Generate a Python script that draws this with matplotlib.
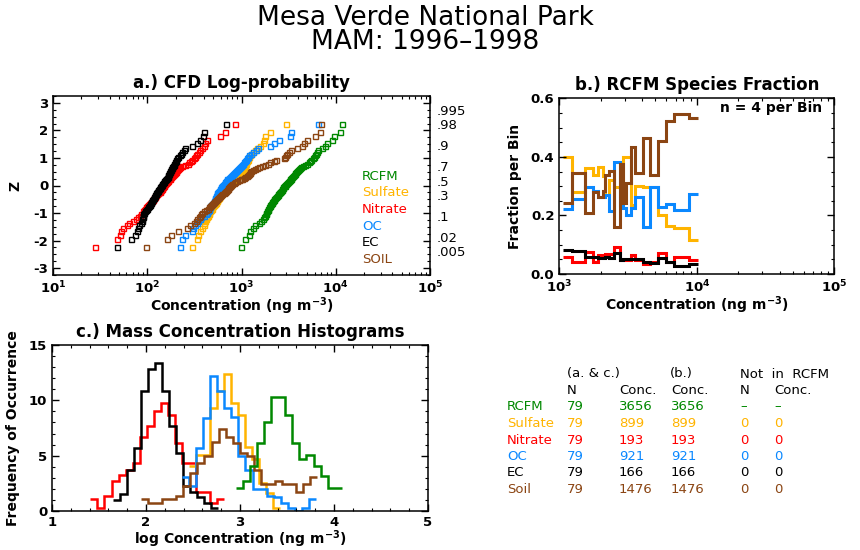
import matplotlib
matplotlib.use('Agg')
import matplotlib.pyplot as plt
import matplotlib.transforms as mtransforms
from matplotlib.ticker import AutoMinorLocator, LogLocator, FixedLocator, NullFormatter, LogFormatterMathtext
import numpy as np
from statistics import NormalDist

plt.rcParams['font.family'] = ['DejaVu Sans']
plt.rcParams['axes.unicode_minus'] = False
plt.rcParams['mathtext.default'] = 'regular'

# ---------------- data ----------------
names = ['RCFM', 'Sulfate', 'Nitrate', 'OC', 'EC', 'SOIL']
colors = {'RCFM': '#008800', 'Sulfate': '#FFB400', 'Nitrate': '#FF0000',
          'OC': '#0A88FF', 'EC': '#000000', 'SOIL': '#8B4513'}

# panel a: sorted log10 concentrations (ng m-3), 79 samples each
rcfm_log = [2.99, 3.04, 3.08, 3.09, 3.12, 3.145, 3.19, 3.21, 3.225, 3.24, 3.25, 3.255, 3.265, 3.27, 3.28,
            3.285, 3.29, 3.30, 3.305, 3.31, 3.32, 3.325, 3.33, 3.34, 3.35, 3.36, 3.37, 3.375, 3.385, 3.39,
            3.40, 3.405, 3.41, 3.42, 3.43, 3.435, 3.44, 3.445, 3.45, 3.46, 3.465, 3.475, 3.48, 3.49, 3.50,
            3.51, 3.515, 3.52, 3.53, 3.54, 3.55, 3.56, 3.565, 3.57, 3.58, 3.59, 3.60, 3.61, 3.625, 3.635,
            3.65, 3.67, 3.70, 3.72, 3.73, 3.74, 3.755, 3.77, 3.78, 3.79, 3.80, 3.815, 3.85, 3.885, 3.905,
            3.96, 3.985, 4.045, 4.065]
sulfate_log = [2.48, 2.53, 2.54, 2.555, 2.58, 2.60, 2.605, 2.615, 2.625, 2.635, 2.64, 2.65, 2.655, 2.665, 2.68,
               2.685, 2.69, 2.70, 2.71, 2.72, 2.725, 2.73, 2.74, 2.745, 2.75, 2.76, 2.765, 2.77, 2.775, 2.78,
               2.79, 2.795, 2.80, 2.81, 2.815, 2.825, 2.83, 2.84, 2.85, 2.86, 2.865, 2.87, 2.88, 2.89, 2.90,
               2.91, 2.92, 2.93, 2.94, 2.95, 2.96, 2.97, 2.98, 2.985, 2.99, 3.00, 3.01, 3.02, 3.025, 3.03,
               3.035, 3.04, 3.045, 3.05, 3.06, 3.065, 3.07, 3.08, 3.09, 3.10, 3.12, 3.14, 3.16, 3.20, 3.23,
               3.24, 3.25, 3.30, 3.47]
nitrate_log = [1.45, 1.68, 1.71, 1.72, 1.74, 1.79, 1.81, 1.85, 1.88, 1.90, 1.92, 1.93, 1.95, 1.96, 1.97,
               1.98, 1.99, 2.00, 2.01, 2.02, 2.03, 2.04, 2.05, 2.06, 2.065, 2.07, 2.08, 2.085, 2.09, 2.10,
               2.11, 2.12, 2.13, 2.14, 2.15, 2.155, 2.16, 2.165, 2.17, 2.175, 2.18, 2.19, 2.20, 2.21, 2.22,
               2.225, 2.23, 2.24, 2.245, 2.25, 2.26, 2.27, 2.28, 2.29, 2.30, 2.31, 2.32, 2.33, 2.34, 2.35,
               2.37, 2.40, 2.43, 2.44, 2.46, 2.48, 2.50, 2.51, 2.52, 2.53, 2.545, 2.56, 2.58, 2.60, 2.61,
               2.63, 2.77, 2.82, 2.93]
oc_log = [2.35, 2.37, 2.40, 2.47, 2.49, 2.51, 2.525, 2.54, 2.555, 2.57, 2.60, 2.625, 2.635, 2.64, 2.65,
          2.66, 2.665, 2.67, 2.68, 2.69, 2.70, 2.705, 2.71, 2.715, 2.72, 2.72, 2.725, 2.73, 2.735, 2.74,
          2.745, 2.75, 2.755, 2.76, 2.77, 2.775, 2.78, 2.785, 2.79, 2.795, 2.80, 2.81, 2.82, 2.83, 2.84,
          2.845, 2.85, 2.86, 2.87, 2.88, 2.89, 2.90, 2.91, 2.92, 2.93, 2.94, 2.95, 2.96, 2.97, 2.985,
          2.995, 3.005, 3.015, 3.025, 3.035, 3.045, 3.055, 3.065, 3.08, 3.10, 3.12, 3.15, 3.18, 3.30, 3.35,
          3.40, 3.51, 3.52, 3.81]
ec_log = [1.68, 1.83, 1.87, 1.89, 1.90, 1.91, 1.93, 1.94, 1.945, 1.95, 1.955, 1.96, 1.97, 1.98, 1.99,
          2.00, 2.01, 2.02, 2.025, 2.03, 2.04, 2.045, 2.05, 2.055, 2.06, 2.07, 2.075, 2.08, 2.085, 2.09,
          2.095, 2.10, 2.105, 2.11, 2.115, 2.12, 2.13, 2.14, 2.145, 2.15, 2.155, 2.16, 2.17, 2.175, 2.18,
          2.19, 2.195, 2.20, 2.21, 2.215, 2.22, 2.225, 2.23, 2.235, 2.24, 2.245, 2.25, 2.255, 2.26, 2.265,
          2.27, 2.28, 2.285, 2.29, 2.30, 2.31, 2.32, 2.33, 2.35, 2.36, 2.37, 2.385, 2.40, 2.47, 2.53,
          2.56, 2.59, 2.60, 2.84]
soil_log = [1.99, 2.21, 2.255, 2.325, 2.42, 2.455, 2.50, 2.52, 2.53, 2.545, 2.56, 2.57, 2.58, 2.60, 2.62,
            2.645, 2.655, 2.665, 2.68, 2.69, 2.70, 2.71, 2.72, 2.73, 2.74, 2.75, 2.765, 2.775, 2.785, 2.795,
            2.81, 2.82, 2.83, 2.84, 2.85, 2.855, 2.86, 2.87, 2.875, 2.88, 2.89, 2.90, 2.92, 2.935, 2.95,
            2.97, 2.99, 3.01, 3.025, 3.04, 3.055, 3.065, 3.075, 3.085, 3.09, 3.10, 3.12, 3.14, 3.16, 3.19,
            3.22, 3.25, 3.28, 3.30, 3.34, 3.37, 3.45, 3.46, 3.47, 3.48, 3.50, 3.52, 3.59, 3.64, 3.66,
            3.70, 3.78, 3.83, 3.84]

prob_labels = ['.995', '.98', '.9', '.7', '.5', '.3', '.1', '.02', '.005']
prob_values = [0.995, 0.98, 0.9, 0.7, 0.5, 0.3, 0.1, 0.02, 0.005]

# panel b: RCFM bins (log10 edges) and species fractions per bin
bin_edges_log = [3.029, 3.09, 3.187, 3.247, 3.284, 3.316, 3.332, 3.364, 3.40, 3.441, 3.461,
                 3.485, 3.519, 3.551, 3.606, 3.66, 3.716, 3.774, 3.836, 3.943, 4.011]
frac_soil = [0.244, 0.346, 0.209, 0.281, 0.262, 0.282, 0.337, 0.353, 0.160, 0.376, 0.241,
             0.310, 0.432, 0.346, 0.466, 0.338, 0.455, 0.524, 0.546, 0.534]
frac_sulfate = [0.400, 0.281, 0.361, 0.338, 0.366, 0.335, 0.270, 0.322, 0.298, 0.298, 0.398,
                0.398, 0.236, 0.300, 0.296, 0.296, 0.2015, 0.164, 0.158, 0.116]
frac_oc = [0.221, 0.257, 0.298, 0.284, 0.263, 0.263, 0.270, 0.215, 0.384, 0.236, 0.224,
           0.201, 0.224, 0.262, 0.162, 0.296, 0.230, 0.239, 0.219, 0.273]
frac_nitrate = [0.059, 0.042, 0.076, 0.042, 0.065, 0.065, 0.067, 0.067, 0.093, 0.048, 0.048,
                0.048, 0.065, 0.048, 0.034, 0.040, 0.073, 0.042, 0.057, 0.048]
frac_ec = [0.082, 0.0785, 0.059, 0.059, 0.054, 0.056, 0.058, 0.056, 0.073, 0.048, 0.050,
           0.050, 0.050, 0.050, 0.042, 0.038, 0.054, 0.042, 0.028, 0.033]

# panel c: histograms of log concentration (first bin edge, frequencies), bin width 0.075
hist_width = 0.075
hist_ec_start, hist_ec = 1.645, [1.0, 1.5, 3.7, 5.7, 10.8, 12.8, 13.4, 10.8, 7.7, 5.2, 2.3, 1.7, 1.3, 0.7, 0.3]
hist_no3_start, hist_no3 = 1.408, [1.06, 0.3, 1.36, 2.72, 3.23, 3.7, 4.35, 6.7, 7.67, 9.06, 9.72, 8.66,
                                   6.1, 4.35, 4.35, 1.72, 1.72, 0.72, 1.06]
hist_oc_start, hist_oc = 2.383, [3.1, 2.3, 5.7, 8.4, 12.2, 10.8, 9.3, 8.5, 5.0, 3.7, 2.0, 2.0, 1.4, 1.3,
                                 0.7, 0.3, 0.0, 0.3, 1.06]
hist_so4_start, hist_so4 = 2.454, [4.07, 5.04, 5.04, 9.27, 10.8, 12.4, 9.8, 8.7, 5.8, 4.74, 2.5, 1.6, 0.3]
hist_soil_start, hist_soil = 1.947, [1.06, 0.72, 0.72, 1.06, 1.06, 1.36, 2.3, 3.4, 4.35, 5.0, 6.25, 7.37,
                                     6.7, 6.1, 5.2, 5.0, 3.68, 2.41, 2.41, 2.7, 2.4, 2.4, 1.72, 2.47, 3.08]
hist_rcfm_start, hist_rcfm = 2.957, [2.08, 2.7, 4.07, 6.1, 8.0, 10.3, 10.3, 8.7, 6.1, 4.74, 5.04, 4.07,
                                     3.14, 2.08, 2.08]

# table
table_rows = ['RCFM', 'Sulfate', 'Nitrate', 'OC', 'EC', 'Soil']
table_n = ['79', '79', '79', '79', '79', '79']
table_conc_ac = ['3656', '899', '193', '921', '166', '1476']
table_conc_b = ['3656', '899', '193', '921', '166', '1476']
table_not_n = ['\u2013', '0', '0', '0', '0', '0']
table_not_conc = ['\u2013', '0', '0', '0', '0', '0']

# ---------------- figure ----------------
W, H = 860, 550
fig = plt.figure(figsize=(8.6, 5.5), dpi=100)

def fx(px):
    return px / W

def fy(py):
    return 1 - py / H

fig.text(fx(425), fy(18), 'Mesa Verde National Park', ha='center', va='center', fontsize=19)
fig.text(fx(425), fy(42), 'MAM: 1996\u20131998', ha='center', va='center', fontsize=19)

tick_kw = dict(direction='in', top=True, right=True, labelsize=9.5)
lab_kw = dict(fontsize=10, fontweight='bold')
title_kw = dict(fontsize=12, fontweight='bold')

def style(ax):
    ax.tick_params(which='major', length=5, width=1, **tick_kw)
    ax.tick_params(which='minor', length=2.5, width=0.8, direction='in', top=True, right=True)
    for s in ax.spines.values():
        s.set_linewidth(1.1)
    for lab in ax.get_xticklabels() + ax.get_yticklabels():
        lab.set_fontweight('bold')

def place_xlabel(ax, text, ycoord):
    ax.set_xlabel(text, **lab_kw)
    ax.xaxis.set_label_coords(0.5, ycoord)
    ax.xaxis.label.set_va('center')

# ---- panel a ----
axA = fig.add_axes([fx(53), fy(275), fx(430 - 53), (275 - 96) / H])
series_a = [('RCFM', rcfm_log), ('Sulfate', sulfate_log), ('Nitrate', nitrate_log),
            ('OC', oc_log), ('EC', ec_log), ('SOIL', soil_log)]
nd = NormalDist()
for name, vals in series_a:
    n = len(vals)
    z = [nd.inv_cdf((i + 1) / (n + 1)) for i in range(n)]
    axA.plot(10 ** np.array(vals), z, ls='none', marker='s', ms=3.6, mfc='none',
             mec=colors[name], mew=1.0)
axA.set_xscale('log')
axA.set_xlim(10, 1e5)
axA.set_ylim(-3.25, 3.25)
axA.xaxis.set_major_locator(LogLocator(base=10, numticks=10))
axA.xaxis.set_major_formatter(LogFormatterMathtext())
axA.xaxis.set_minor_locator(LogLocator(base=10, subs=np.arange(2, 10), numticks=20))
axA.xaxis.set_minor_formatter(NullFormatter())
axA.yaxis.set_major_locator(FixedLocator([-3, -2, -1, 0, 1, 2, 3]))
axA.yaxis.set_minor_locator(AutoMinorLocator(4))
style(axA)
place_xlabel(axA, 'Concentration (ng m$^{-3}$)', -0.175)
axA.set_ylabel('Z', labelpad=8, **lab_kw)
axA.set_title('a.) CFD Log-probability', pad=6, **title_kw)
trA = mtransforms.blended_transform_factory(axA.transAxes, axA.transData)
for lab, p in zip(prob_labels, prob_values):
    axA.text(1.017, nd.inv_cdf(p), lab, transform=trA, ha='left', va='baseline', fontsize=9.5)
for i, name in enumerate(names):
    fig.text(fx(362), fy(176 + i * 16.7), name, color=colors[name], fontsize=9.5,
             ha='left', va='center')

# ---- panel b ----
axB = fig.add_axes([fx(559.3), fy(274), fx(834.3 - 559.3), (274 - 98.3) / H])
edges_b = 10 ** np.array(bin_edges_log)
for name, vals in [('Sulfate', frac_sulfate), ('OC', frac_oc),
                   ('Nitrate', frac_nitrate), ('EC', frac_ec), ('SOIL', frac_soil)]:
    axB.stairs(vals, edges_b, baseline=None, color=colors[name], lw=2.2)
axB.set_xscale('log')
axB.set_xlim(1e3, 1e5)
axB.set_ylim(0, 0.6)
axB.xaxis.set_major_locator(LogLocator(base=10, numticks=10))
axB.xaxis.set_major_formatter(LogFormatterMathtext())
axB.xaxis.set_minor_locator(LogLocator(base=10, subs=np.arange(2, 10), numticks=20))
axB.xaxis.set_minor_formatter(NullFormatter())
axB.yaxis.set_major_locator(FixedLocator([0.0, 0.2, 0.4, 0.6]))
axB.yaxis.set_major_formatter(matplotlib.ticker.FormatStrFormatter('%.1f'))
axB.yaxis.set_minor_locator(AutoMinorLocator(4))
style(axB)
place_xlabel(axB, 'Concentration (ng m$^{-3}$)', -0.18)
axB.set_ylabel('Fraction per Bin', labelpad=6, **lab_kw)
axB.set_title('b.) RCFM Species Fraction', pad=6, **title_kw)
axB.text(0.955, 0.945, 'n = 4 per Bin', transform=axB.transAxes, ha='right', va='center',
         fontsize=10, fontweight='bold')

# ---- panel c ----
axC = fig.add_axes([fx(52), fy(511), fx(428 - 52), (511 - 345) / H])
hists = [('Nitrate', hist_no3_start, hist_no3), ('EC', hist_ec_start, hist_ec),
         ('Sulfate', hist_so4_start, hist_so4), ('OC', hist_oc_start, hist_oc),
         ('SOIL', hist_soil_start, hist_soil), ('RCFM', hist_rcfm_start, hist_rcfm)]
for name, start, vals in hists:
    edges = start + hist_width * np.arange(len(vals) + 1)
    axC.stairs(vals, edges, baseline=None, color=colors[name], lw=1.8)
axC.set_xlim(1, 5)
axC.set_ylim(0, 15)
axC.xaxis.set_major_locator(FixedLocator([1, 2, 3, 4, 5]))
axC.xaxis.set_minor_locator(AutoMinorLocator(5))
axC.yaxis.set_major_locator(FixedLocator([0, 5, 10, 15]))
axC.yaxis.set_minor_locator(AutoMinorLocator(5))
style(axC)
place_xlabel(axC, 'log Concentration (ng m$^{-3}$)', -0.17)
axC.set_ylabel('Frequency of Occurrence', labelpad=6, **lab_kw)
axC.set_title('c.) Mass Concentration Histograms', pad=6, **title_kw)

# ---- table ----
tkw = dict(fontsize=9.5, va='center', ha='left')
fig.text(fx(567), fy(374), '(a. & c.)', **tkw)
fig.text(fx(670), fy(374), '(b.)', **tkw)
fig.text(fx(740), fy(374), 'Not  in  RCFM', **tkw)
fig.text(fx(567), fy(391), 'N', **tkw)
fig.text(fx(619), fy(391), 'Conc.', **tkw)
fig.text(fx(671), fy(391), 'Conc.', **tkw)
fig.text(fx(740), fy(391), 'N', **tkw)
fig.text(fx(774), fy(391), 'Conc.', **tkw)
row_colors = [colors['RCFM'], colors['Sulfate'], colors['Nitrate'], colors['OC'], colors['EC'], colors['SOIL']]
for i, rname in enumerate(table_rows):
    y = fy(407 + i * 16.5)
    c = row_colors[i]
    fig.text(fx(507), y, rname, color=c, **tkw)
    fig.text(fx(567), y, table_n[i], color=c, **tkw)
    fig.text(fx(619), y, table_conc_ac[i], color=c, **tkw)
    fig.text(fx(671), y, table_conc_b[i], color=c, **tkw)
    fig.text(fx(740), y, table_not_n[i], color=c, **tkw)
    fig.text(fx(774), y, table_not_conc[i], color=c, **tkw)

fig.savefig('out.png', dpi=100)
